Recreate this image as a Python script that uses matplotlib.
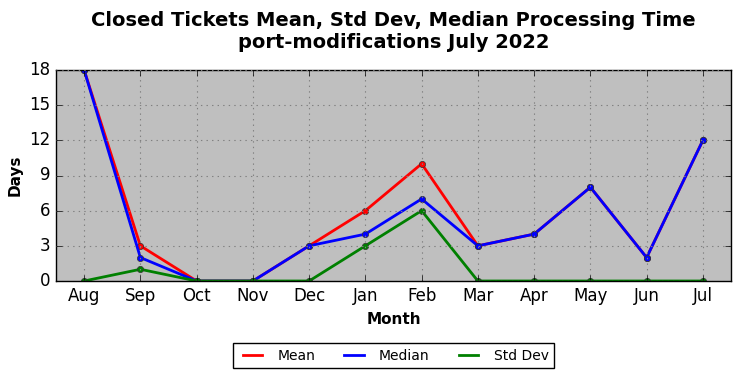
import matplotlib
matplotlib.use("Agg")
import matplotlib.pyplot as plt
from matplotlib.lines import Line2D

months = ["Aug", "Sep", "Oct", "Nov", "Dec", "Jan", "Feb", "Mar", "Apr", "May", "Jun", "Jul"]
mean_days = [18, 3, 0, 0, 3, 6, 10, 3, 4, 8, 2, 12]
median_days = [18, 2, 0, 0, 3, 4, 7, 3, 4, 8, 2, 12]
std_days = [0, 1, 0, 0, 0, 3, 6, 0, 0, 0, 0, 0]

plt.style.use("classic")
fig = plt.figure(figsize=(7.41, 3.78), dpi=100)
ax = fig.add_axes([56 / 741, 1 - 281 / 378, 675 / 741, 211 / 378])
ax.set_facecolor("#bfbfbf")

x = range(len(months))
ax.plot(x, mean_days, color="red", lw=2, marker="o", ms=4.5, mec="#333333")
ax.plot(x, median_days, color="blue", lw=2, marker="o", ms=4.5, mec="#333333")
ax.plot(x, std_days, color="green", lw=2, marker="o", ms=4.5, mec="#333333")

ax.set_xticks(list(x))
ax.set_xticklabels(months)
ax.set_xlim(-0.5, 11.5)
ax.set_ylim(0, 18)
ax.set_yticks(range(0, 19, 3))
ax.grid(True, color="#808080", linestyle=":", linewidth=0.8)
ax.set_xlabel("Month", fontweight="bold", fontsize=11)
ax.set_ylabel("Days", fontweight="bold", fontsize=11)
ax.set_title("Closed Tickets Mean, Std Dev, Median Processing Time\nport-modifications July 2022",
             fontweight="bold", fontsize=14, pad=16)

handles = [Line2D([], [], color="red", lw=2),
           Line2D([], [], color="blue", lw=2),
           Line2D([], [], color="green", lw=2)]
ax.legend(handles, ["Mean", "Median", "Std Dev"], loc="upper center",
          bbox_to_anchor=(0.5, -0.295), ncol=3, fontsize=10,
          frameon=True, fancybox=False, borderaxespad=0, handlelength=2,
          columnspacing=1.8)

fig.savefig("out.png", dpi=100)
